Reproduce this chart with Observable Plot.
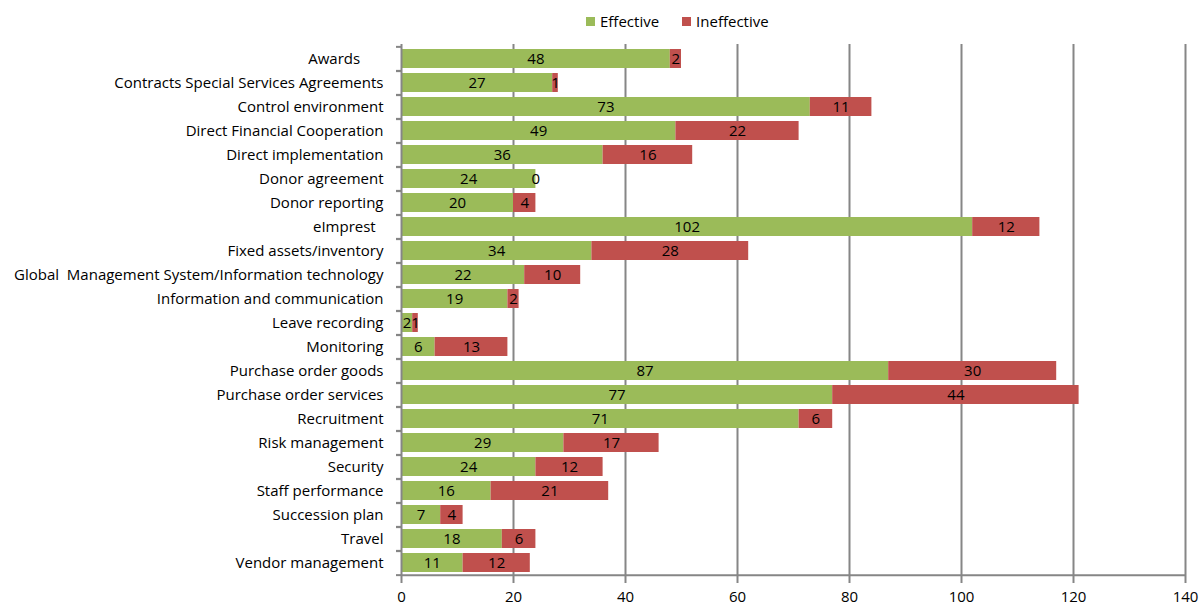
<!DOCTYPE html>
<html>
<head>
<meta charset="utf-8">
<script src="https://cdn.jsdelivr.net/npm/d3@7"></script>
<script src="https://cdn.jsdelivr.net/npm/@observablehq/plot@0.6"></script>
<style>
  body { margin: 0; background: #fff; font-family: "Open Sans", sans-serif; }
  #wrap { position: relative; width: 1200px; height: 608px; }
  #legend { position: absolute; top: 11px; left: 586px; display: flex; align-items: center; font-size: 15px; color: #000; }
  #legend .sw { width: 9px; height: 9px; display: inline-block; margin-right: 5px; }
  #legend .item { display: flex; align-items: center; margin-right: 23px; }
</style>
</head>
<body>
<div id="wrap">
  <div id="legend"></div>
  <div id="chart"></div>
</div>
<script>
const categories = [
  "Awards\u00a0\u00a0\u00a0\u00a0\u00a0\u00a0",
  "Contracts Special Services Agreements",
  "Control environment",
  "Direct Financial Cooperation",
  "Direct implementation",
  "Donor agreement",
  "Donor reporting",
  "eImprest\u00a0\u00a0",
  "Fixed assets/inventory",
  "Global\u00a0 Management System/Information technology",
  "Information and communication",
  "Leave recording",
  "Monitoring",
  "Purchase order goods",
  "Purchase order services",
  "Recruitment",
  "Risk management",
  "Security",
  "Staff performance",
  "Succession plan",
  "Travel",
  "Vendor management"
];
const effective   = [48, 27, 73, 49, 36, 24, 20, 102, 34, 22, 19, 2, 6, 87, 77, 71, 29, 24, 16, 7, 18, 11];
const ineffective = [ 2,  1, 11, 22, 16,  0,  4,  12, 28, 10,  2, 1, 13, 30, 44,  6, 17, 12, 21, 4,  6, 12];
const seriesNames = ["Effective", "Ineffective"];
const seriesColors = ["#9BBB59", "#C0504D"];
const xTicks = [0, 20, 40, 60, 80, 100, 120, 140];

const data = categories.flatMap((c, i) => [
  {cat: c, status: seriesNames[0], value: effective[i]},
  {cat: c, status: seriesNames[1], value: ineffective[i]}
]);

const axisColor = "#868686";
const H = 608, mTop = 44, mBottom = 30;
const step = (H - mTop - mBottom) / categories.length;

const chart = Plot.plot({
  width: 1200,
  height: H,
  marginLeft: 401,
  marginRight: 15,
  marginTop: mTop,
  marginBottom: mBottom,
  style: {fontFamily: "'Open Sans', sans-serif", fontSize: "15px", color: "#000", background: "#fff"},
  x: {domain: [0, 140], label: null},
  y: {domain: categories, paddingInner: 0.2, paddingOuter: 0.1, label: null},
  color: {domain: seriesNames, range: seriesColors},
  marks: [
    Plot.gridX({ticks: xTicks.slice(1), stroke: axisColor, strokeOpacity: 1, strokeWidth: 2}),
    Plot.barX(data, Plot.stackX({x: "value", y: "cat", fill: "status"})),
    Plot.text(data, Plot.stackX({x: "value", y: "cat", text: "value", fill: "#000", fontSize: 15})),
    Plot.ruleX([0], {stroke: axisColor, strokeWidth: 2}),
    Plot.ruleY([categories[categories.length - 1]], {x1: 0, x2: 140, dy: step / 2, stroke: axisColor, strokeWidth: 2}),
    Plot.axisX({ticks: xTicks, tickSize: 5, tickPadding: 8, stroke: axisColor, strokeWidth: 2, fill: "#000", fontSize: 15, label: null}),
    Plot.axisY({tickSize: 0, tickPadding: 18, fill: "#000", fontSize: 15, label: null}),
    Plot.axisY({tickSize: 5, tickFormat: () => "", stroke: axisColor, strokeWidth: 2, dy: -step / 2, label: null}),
    Plot.axisY({tickSize: 5, tickFormat: () => "", stroke: axisColor, strokeWidth: 2, dy: step / 2, label: null})
  ]
});
document.getElementById("chart").appendChild(chart);

const legend = document.getElementById("legend");
seriesNames.forEach((name, i) => {
  const item = document.createElement("span");
  item.className = "item";
  const sw = document.createElement("span");
  sw.className = "sw";
  sw.style.background = seriesColors[i];
  item.appendChild(sw);
  item.appendChild(document.createTextNode(name));
  legend.appendChild(item);
});
</script>
</body>
</html>
